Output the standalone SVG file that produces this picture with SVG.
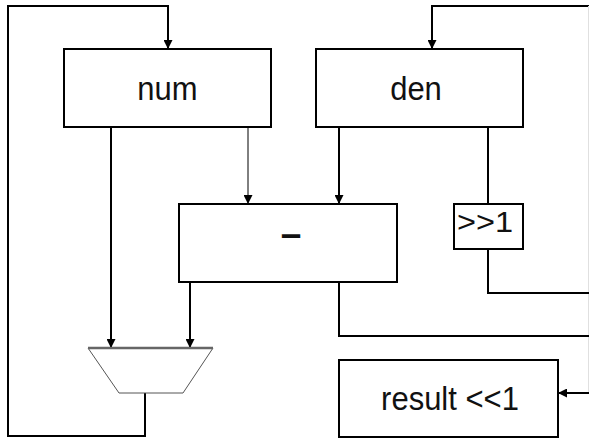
<svg xmlns="http://www.w3.org/2000/svg" width="589" height="439" viewBox="0 0 589 439">
  <style>
    .box { fill: #ffffff; stroke: #000000; stroke-width: 2; }
    .wire { fill: none; stroke: #000000; stroke-width: 2; }
    .thin { fill: none; stroke: #000000; stroke-width: 1; }
    .label { font-family: "Liberation Sans", Arial, sans-serif; font-size: 31px; fill: #111111; text-anchor: middle; }
  </style>
  <defs>
    <marker id="arrow" viewBox="0 0 10 10" refX="10" refY="5" markerWidth="9" markerHeight="9" markerUnits="userSpaceOnUse" orient="auto">
      <path d="M0,0 L10,5 L0,10 Z" fill="#000000"/>
    </marker>
  </defs>
  <rect width="589" height="439" fill="#ffffff"/>

  <g id="connectors">
    <!-- mux output loops back into num -->
    <polyline class="wire" points="145,393 145,436 8,436 8,6 168,6 168,49" marker-end="url(#arrow)"/>
    <!-- feedback from the right into den -->
    <polyline class="wire" points="589,6 432,6 432,49" marker-end="url(#arrow)"/>
    <!-- faint right-hand return line -->
    <line x1="588.5" y1="6" x2="588.5" y2="393" stroke="#e0e0e0" stroke-width="1"/>
    <!-- num to mux -->
    <polyline class="wire" points="111,127 111,348" marker-end="url(#arrow)"/>
    <!-- num to subtractor -->
    <polyline class="thin" points="248,127 248,204" marker-end="url(#arrow)"/>
    <!-- den to subtractor -->
    <polyline class="wire" points="339,127 339,204" marker-end="url(#arrow)"/>
    <!-- den to shifter -->
    <polyline class="wire" points="488,127 488,204"/>
    <!-- shifter output -->
    <polyline class="wire" points="488,249 488,293 589,293"/>
    <!-- subtractor to mux -->
    <polyline class="wire" points="190,282 190,348" marker-end="url(#arrow)"/>
    <!-- subtractor output to the right -->
    <polyline class="wire" points="339,282 339,336 589,336"/>
    <!-- input into result -->
    <polyline class="wire" points="589,393 558,393" marker-end="url(#arrow)"/>
  </g>

  <g id="num">
    <rect class="box" x="64" y="49" width="207" height="78"/>
    <text class="label" transform="translate(167.5,100) scale(1,1.1)">num</text>
  </g>

  <g id="den">
    <rect class="box" x="316" y="49" width="207" height="78"/>
    <text class="label" transform="translate(416,100) scale(1,1.1)">den</text>
  </g>

  <g id="sub">
    <rect class="box" x="179" y="204" width="218" height="78"/>
    <text class="label" x="291" y="246" style="font-weight:bold;font-size:37px;">–</text>
  </g>

  <g id="shift">
    <rect class="box" x="454" y="204" width="69" height="45"/>
    <text class="label" x="485" y="232" textLength="56" lengthAdjust="spacingAndGlyphs" style="font-size:29px;">&gt;&gt;1</text>
  </g>

  <g id="mux">
    <polygon points="88,348 213,348 183,393 119,393" fill="#ffffff" stroke="#555555" stroke-width="1"/>
    <line x1="88" y1="348" x2="213" y2="348" stroke="#666666" stroke-width="2.5"/>
  </g>

  <g id="result">
    <rect class="box" x="339" y="360" width="219" height="77"/>
    <text class="label" transform="translate(450,410) scale(1,1.08)">result &lt;&lt;1</text>
  </g>
</svg>
